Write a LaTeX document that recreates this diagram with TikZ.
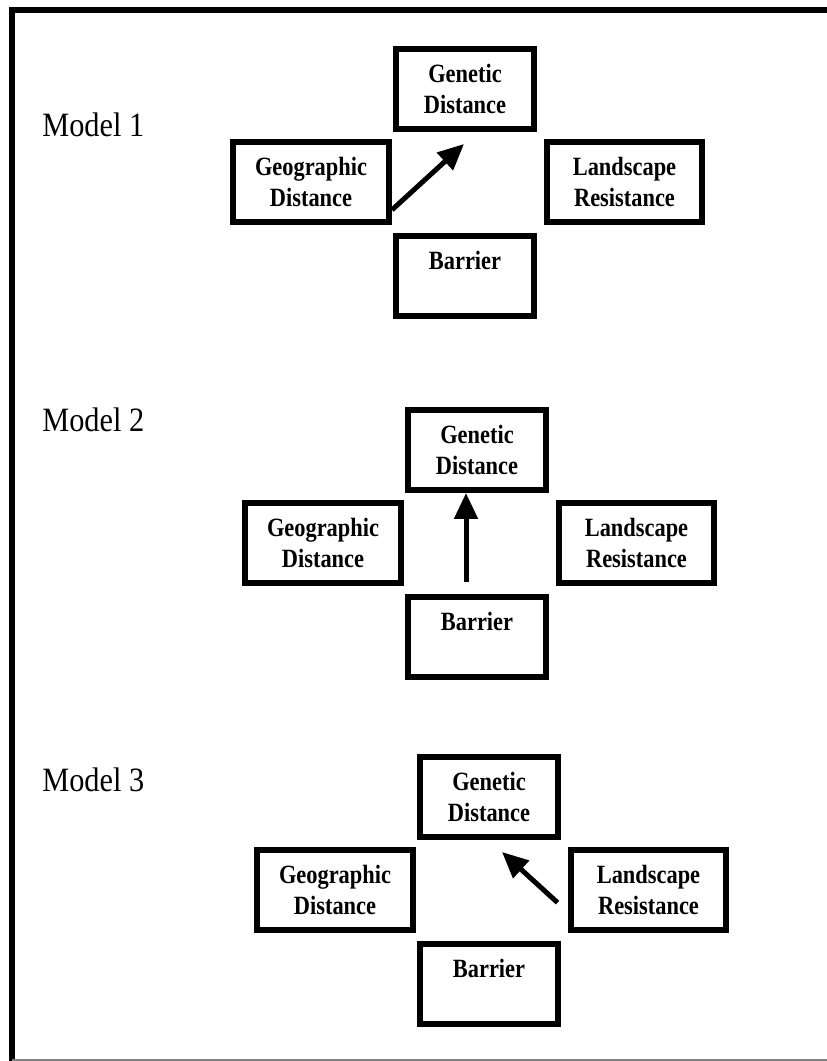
\documentclass[tikz,border=0pt]{standalone}
\usepackage{fontspec}
\setmainfont{Liberation Serif}
\newfontfamily\boxfont[FakeStretch=0.85]{Liberation Serif}
\newfontfamily\modelfont[FakeStretch=0.89]{Liberation Serif}
\usetikzlibrary{arrows.meta}

\tikzset{
	factor/.style={draw, line width=0.12cm, minimum width=2.76cm, minimum height=1.6cm,
		inner sep=0pt, align=center, font=\boxfont\bfseries\fontsize{15}{17.6}\selectfont},
	widefactor/.style={factor, minimum width=3.12cm},
	effect/.style={line width=0.1cm, -{Triangle[length=0.52cm,width=0.46cm]}},
	modellabel/.style={anchor=base west, inner sep=0pt,
		font=\modelfont\fontsize{19.4}{23}\selectfont}
}

\begin{document}
\begin{tikzpicture}[x=0.02cm, y=-0.02cm]
	\useasboundingbox (0,0) rectangle (827,1061);
	% frame
	\draw[line width=0.12cm] (12,1061) -- (12,10) -- (827,10);
	\draw[gray, line width=0.04cm] (12,1059.5) -- (827,1059.5);
	% model 1
	\node[modellabel] (lab1) at (42,136) {Model 1};
	\begin{scope}[shift={(465,89)}]
	\node[factor] (gen1) at (0,0) {Genetic\\Distance};
	\node[widefactor] (geo1) at (-154,93) {Geographic\\Distance};
	\node[widefactor] (land1) at (159.5,93) {Landscape\\Resistance};
	\node[factor] (bar1) at (0,187) {Barrier\\ \mbox{}};
	\coordinate (tip1) at (-1,55);
	\draw[effect] (geo1.-19) -- (tip1);
	\end{scope}
	% model 2
	\node[modellabel] (lab2) at (42,431) {Model 2};
	\begin{scope}[shift={(477,450)}]
	\node[factor] (gen2) at (0,0) {Genetic\\Distance};
	\node[widefactor] (geo2) at (-154,93) {Geographic\\Distance};
	\node[widefactor] (land2) at (159.5,93) {Landscape\\Resistance};
	\node[factor] (bar2) at (0,187) {Barrier\\ \mbox{}};
	\coordinate (foot2) at (-11,132);
	\draw[effect] (foot2) -- (foot2 |- gen2.south);
	\end{scope}
	% model 3
	\node[modellabel] (lab3) at (42,791) {Model 3};
	\begin{scope}[shift={(489,797)}]
	\node[factor] (gen3) at (0,0) {Genetic\\Distance};
	\node[widefactor] (geo3) at (-154,93) {Geographic\\Distance};
	\node[widefactor] (land3) at (159.5,93) {Landscape\\Resistance};
	\node[factor] (bar3) at (0,187) {Barrier\\ \mbox{}};
	\coordinate (tip3) at (13,55);
	\draw[effect, shorten <=0.27cm] (land3.195) -- (tip3);
	\end{scope}
\end{tikzpicture}
\end{document}
